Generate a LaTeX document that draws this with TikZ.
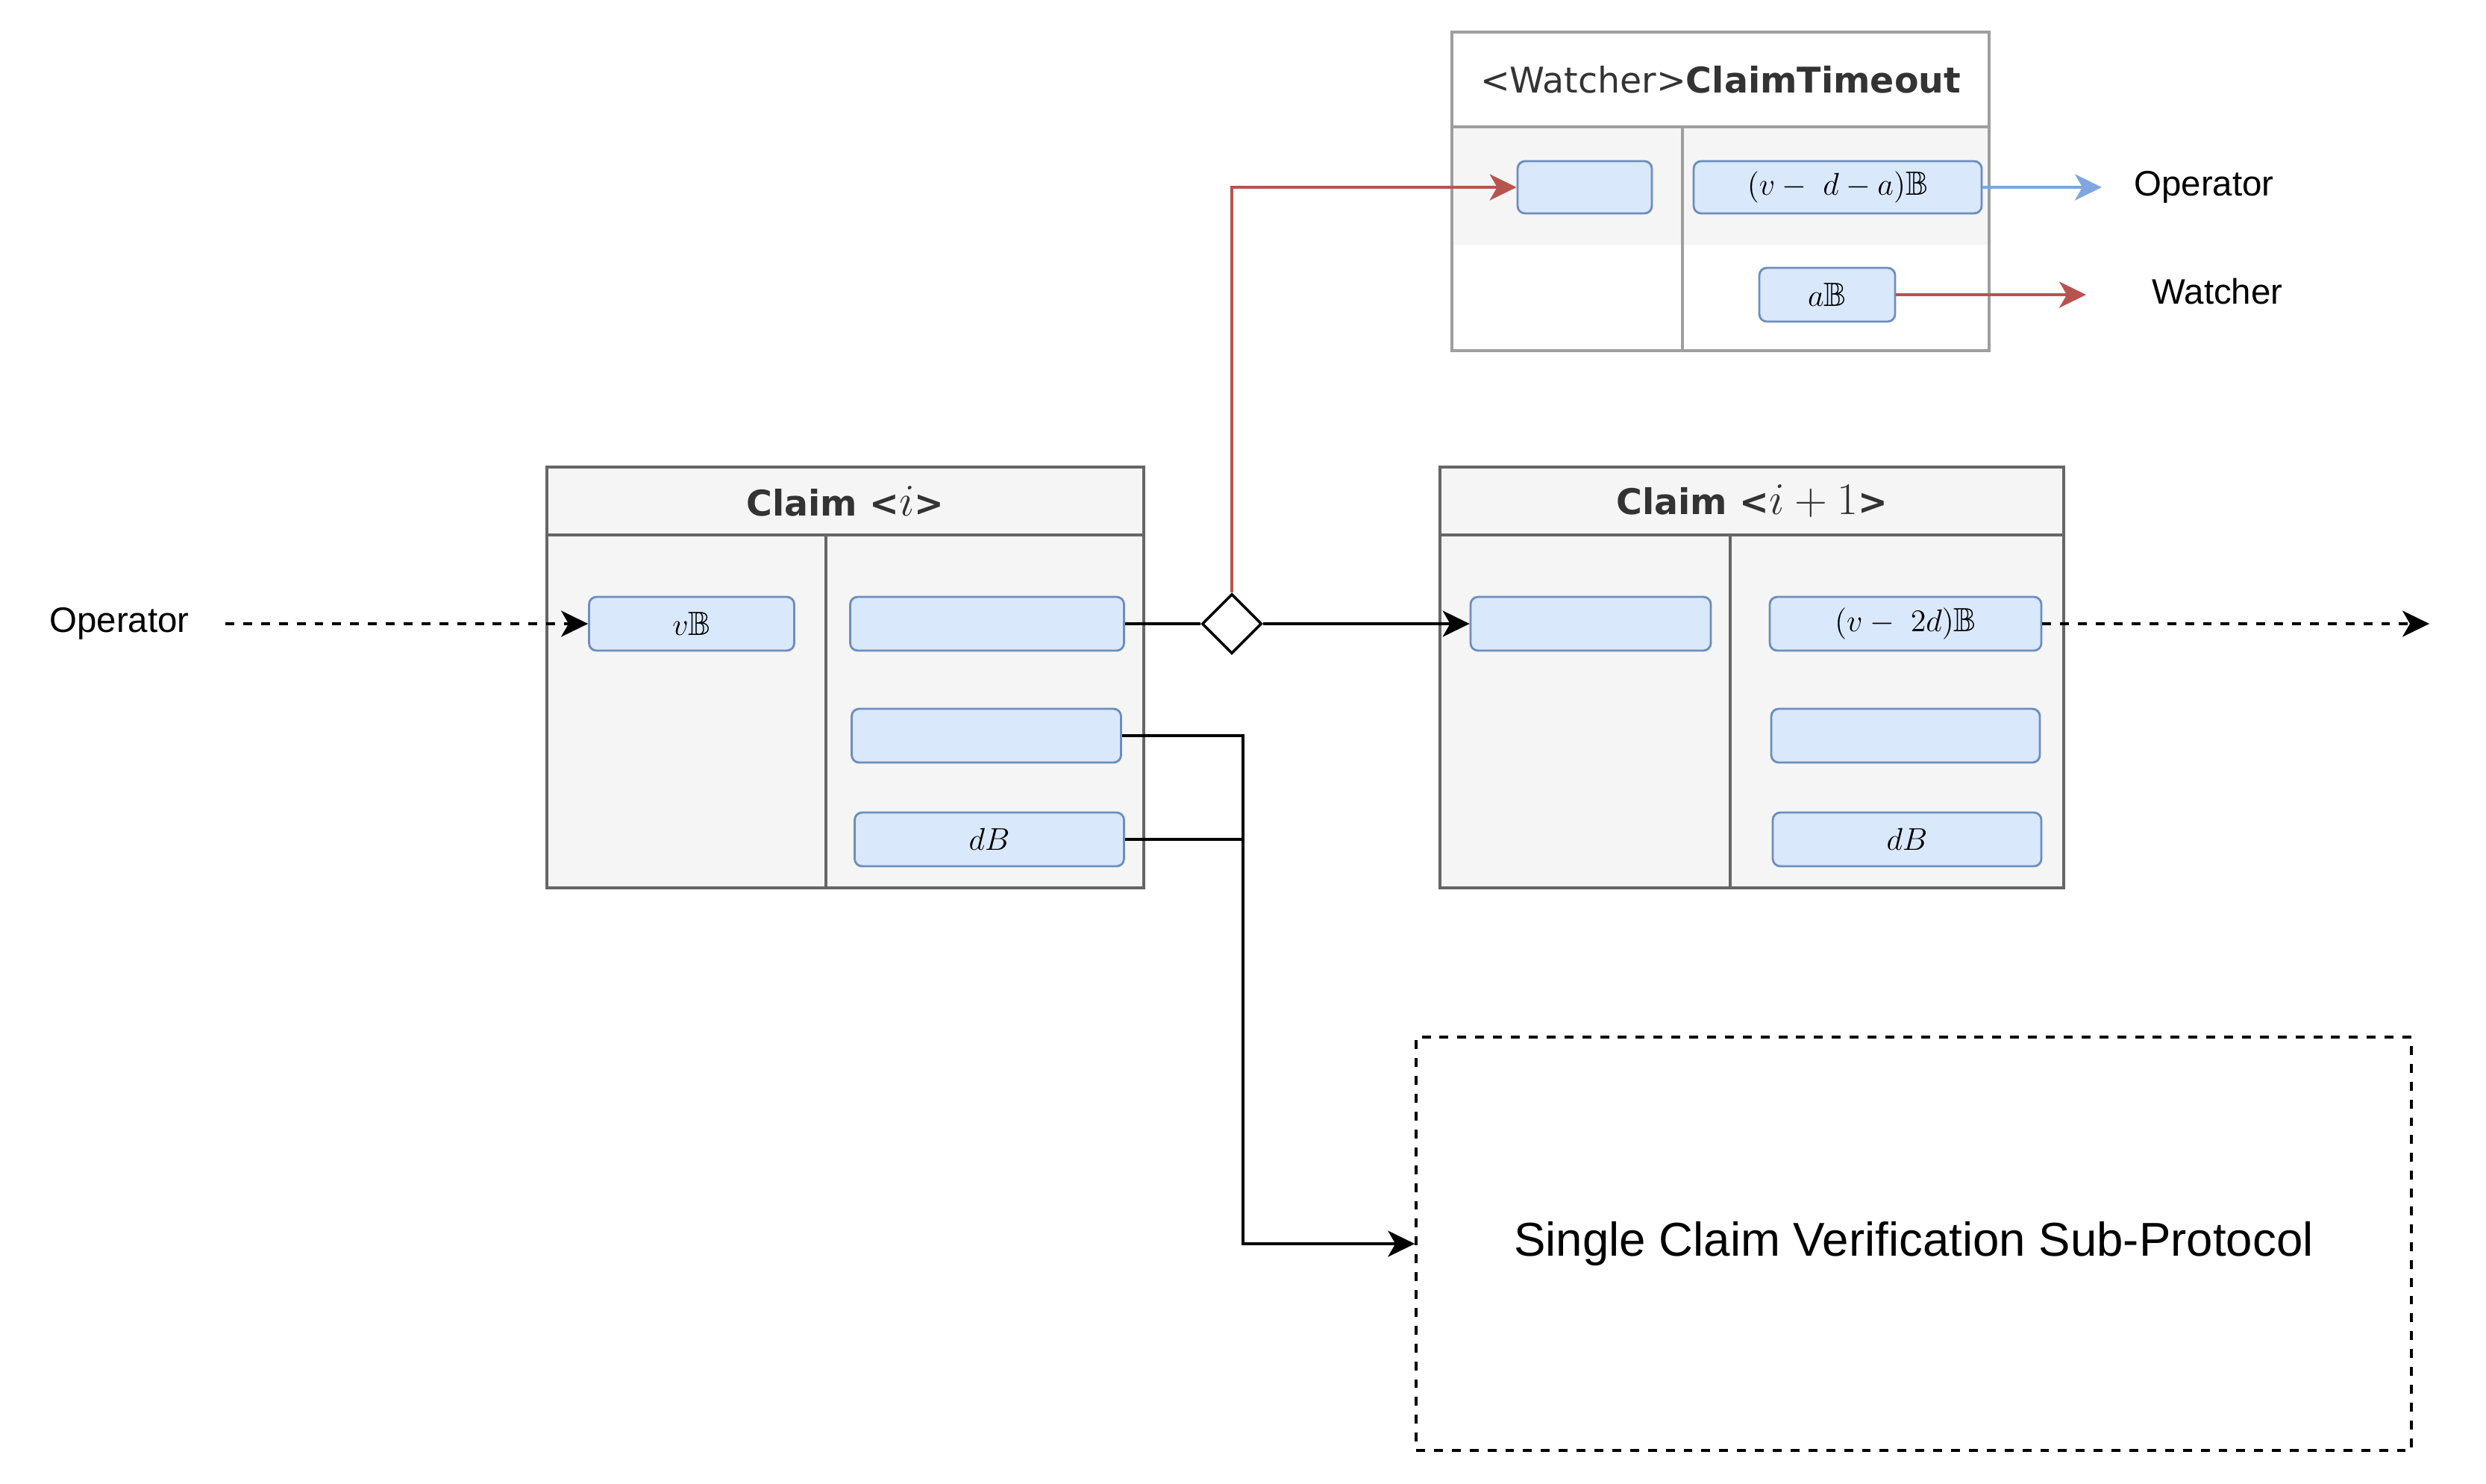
\documentclass[tikz,border=0pt]{standalone}
\usepackage{amsmath}
\usepackage{amssymb}
\usepackage{fontspec}
\setmainfont{Liberation Sans}
\newfontfamily\headfont{DejaVu Sans}
\usetikzlibrary{arrows.meta}
\usetikzlibrary{shapes.geometric}

\definecolor{boxgray}{HTML}{F5F5F5}
\definecolor{claimedge}{HTML}{666666}
\definecolor{timeedge}{HTML}{9E9E9E}
\definecolor{headtext}{HTML}{333333}
\definecolor{slotfill}{HTML}{DAE8FC}
\definecolor{slotedge}{HTML}{6C8EBF}
\definecolor{payred}{HTML}{B85450}
\definecolor{payblue}{HTML}{7EA6E0}

\newcommand{\headmath}[1]{{\fontsize{18.2pt}{20pt}\selectfont$#1$}}

\tikzset{
	claimbox/.style={draw=claimedge, fill=boxgray, line width=0.9pt, inner sep=0pt},
	claimhead/.style={draw=claimedge, line width=0.9pt, inner sep=0pt, text=headtext,
		font=\headfont\fontsize{13.5pt}{15pt}\selectfont},
	slot/.style={draw=slotedge, fill=slotfill, line width=0.8pt, rounded corners=0.1cm,
		minimum height=0.72cm, inner sep=0pt, font=\fontsize{12.8pt}{14pt}\selectfont},
	label/.style={font=\fontsize{13.5pt}{16pt}\selectfont},
	gate/.style={diamond, draw, fill=white, line width=1pt, minimum width=0.8cm,
		minimum height=0.8cm, inner sep=0pt},
	flow/.style={line width=1pt, >={Stealth[length=3.6mm, width=3.5mm, inset=1mm]}},
	redflow/.style={flow, draw=payred, -{Stealth[length=3.6mm, width=3.5mm, inset=1mm, payred]}},
	blueflow/.style={flow, draw=payblue, -{Stealth[length=3.6mm, width=3.5mm, inset=1mm, payblue]}},
	dashflow/.style={flow, dash pattern=on 3.4pt off 3.4pt}
}

\begin{document}
\begin{tikzpicture}
		\useasboundingbox (0,0) rectangle (33.32,-19.88);

		% claim i
		\node[claimbox, minimum width=8cm, minimum height=5.64cm] (claimA) at (11.33,-9.08) {};
		\node[claimhead, minimum width=8cm, minimum height=0.91cm, anchor=north] (claimAh) at (claimA.north) {\bfseries Claim <\headmath{i}>};
		\draw[draw=claimedge, line width=0.9pt] (claimAh.south -| 11.07,0) -- (claimA.south -| 11.07,0);
		\node[slot, minimum width=2.75cm] (slotA1) at (9.27,-8.36) {$v\mathbb{B}$};
		\node[slot, minimum width=3.67cm] (slotA2) at (13.23,-8.36) {};
		\node[slot, minimum width=3.61cm] (slotA3) at (13.22,-9.86) {};
		\node[slot, minimum width=3.61cm] (slotA4) at (13.26,-11.25) {$dB$};

		% claim i+1
		\node[claimbox, minimum width=8.36cm, minimum height=5.64cm] (claimB) at (23.48,-9.08) {};
		\node[claimhead, minimum width=8.36cm, minimum height=0.91cm, anchor=north] (claimBh) at (claimB.north) {\bfseries Claim <\headmath{i+1}>};
		\draw[draw=claimedge, line width=0.9pt] (claimBh.south -| 23.19,0) -- (claimB.south -| 23.19,0);
		\node[slot, minimum width=3.22cm] (slotB1) at (21.32,-8.36) {};
		\node[slot, minimum width=3.64cm] (slotB2) at (25.54,-8.36) {$(v-\ 2d)\mathbb{B}$};
		\node[slot, minimum width=3.60cm] (slotB3) at (25.54,-9.86) {};
		\node[slot, minimum width=3.60cm] (slotB4) at (25.56,-11.25) {$dB$};

		% claim timeout
		\fill[boxgray] (19.46,-1.70) rectangle (26.66,-3.28);
		\node[draw=timeedge, line width=0.9pt, minimum width=7.20cm, minimum height=4.27cm, inner sep=0pt] (timeout) at (23.06,-2.565) {};
		\node[claimhead, draw=timeedge, minimum width=7.20cm, minimum height=1.27cm, anchor=north] (timeouth) at (timeout.north) {<Watcher>\textbf{ClaimTimeout}};
		\draw[draw=timeedge, line width=0.9pt] (timeouth.south -| 22.55,0) -- (timeout.south -| 22.55,0);
		\node[slot, minimum width=1.80cm, minimum height=0.70cm] (slotW1) at (21.24,-2.51) {};
		\node[slot, minimum width=3.86cm, minimum height=0.70cm] (slotW2) at (24.63,-2.51) {$(v-\ d-a)\mathbb{B}$};
		\node[slot, minimum width=1.82cm] (slotW3) at (24.49,-3.95) {$a\mathbb{B}$};

		\node[label] (opR) at (29.54,-2.51) {Operator};
		\node[label] (watcher) at (29.72,-3.91) {Watcher};
		\node[label] (opL) at (1.60,-8.36) {Operator};

		\node[gate] (gate) at (16.51,-8.36) {};

		\node[draw, dashflow, minimum width=13.34cm, minimum height=5.54cm, font=\fontsize{18.1pt}{21pt}\selectfont] (sub) at (25.65,-16.67) {Single Claim Verification Sub-Protocol};

		\coordinate (inStart) at (3.02,-8.36);
		\coordinate (outEnd) at (32.56,-8.36);
		\coordinate (opEnd) at (28.17,-2.51);
		\coordinate (wEnd) at (27.96,-3.95);
		\coordinate (jn) at (16.66,-11.25);

		\draw[dashflow, ->] (inStart) -- (slotA1.west);
		\draw[flow] (slotA2.east) -- (gate.west);
		\draw[flow, ->] (gate.east) -- (slotB1.west);
		\draw[redflow] (gate.north) |- (slotW1.west);
		\draw[blueflow] (slotW2.east) -- (opEnd);
		\draw[redflow] (slotW3.east) -- (wEnd);
		\draw[dashflow, ->] (slotB2.east) -- (outEnd);
		\draw[flow] (slotA3.east) -| (jn);
		\draw[flow, ->] (slotA4.east) -- (jn) |- (sub.west);

	\end{tikzpicture}
\end{document}
